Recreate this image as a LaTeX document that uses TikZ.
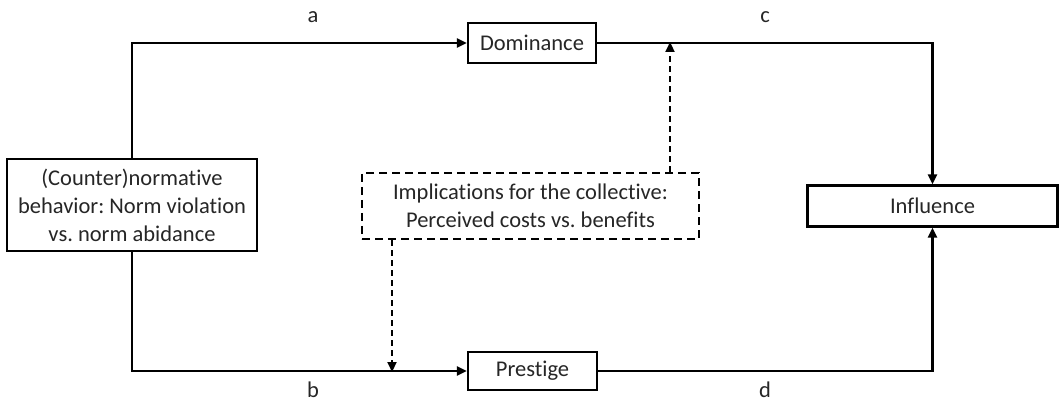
\documentclass[tikz,border=0pt]{standalone}
\usepackage{fontspec}
\setmainfont{Carlito}[Ligatures=NoCommon]
\usetikzlibrary{arrows.meta}
\frenchspacing
\begin{document}
\begin{tikzpicture}[x=1pt,y=-1pt,
  box/.style={draw=black,line width=2.2pt,inner sep=0pt,align=center,font=\fontsize{22.5}{28}\selectfont,text=black!85},
  dbox/.style={box,dash pattern=on 8pt off 5pt},
  conn/.style={line width=2.2pt,-{Triangle[length=10pt,width=9pt]}},
  dconn/.style={conn,dash pattern=on 6pt off 4pt},
  lab/.style={font=\fontsize{22.5}{26}\selectfont,text=black!85}]
\fill[white] (0,0) rectangle (1059,403);
\useasboundingbox (0,0) rectangle (1059,403);
\node[box,minimum width=250pt,minimum height=92pt] (src) at (132,205) {(Counter)normative\\behavior: Norm violation\\vs. norm abidance};
\node[box,minimum width=128pt,minimum height=40pt] (dom) at (532,43) {Dominance};
\node[box,minimum width=129pt,minimum height=38pt] (pre) at (532.5,371) {Prestige};
\node[box,minimum width=250pt,minimum height=41pt] (inf) at (932.5,206) {Influence};
\node[dbox,minimum width=337pt,minimum height=66pt] (imp) at (530.5,206) {Implications for the collective:\\Perceived costs vs. benefits};
\node[lab] (la) at (313,17) {a};
\node[lab] (lc) at (765,17) {c};
\node[lab] (lb) at (313,390) {b};
\node[lab] (ld) at (765,390) {d};
\coordinate (up) at (670,43);
\coordinate (dn) at (392,371);
\draw[conn] (src.north) |- (dom.west);
\draw[conn] (src.south) |- (pre.west);
\draw[conn] (dom.east) -| (inf.north);
\draw[conn] (pre.east) -| (inf.south);
\draw[dconn] (imp.north -| up) -- ([yshift=1pt]up);
\draw[dconn] (imp.south -| dn) -- ([yshift=-1pt]dn);
\end{tikzpicture}
\end{document}
